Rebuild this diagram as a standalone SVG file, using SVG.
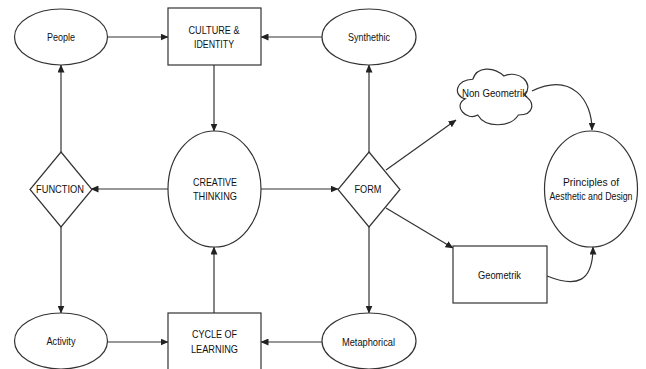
<svg xmlns="http://www.w3.org/2000/svg" width="646" height="369" viewBox="0 0 646 369">
<style>
.shape{fill:#fff;stroke:#333;stroke-width:1.2}
.edge{fill:none;stroke:#333;stroke-width:1.2;marker-end:url(#arr)}
text{font-family:"Liberation Sans",Arial,sans-serif;font-size:11px;fill:#111;text-anchor:middle}
</style>
<defs>
<marker id="arr" markerWidth="8" markerHeight="7" refX="7.5" refY="3.5" orient="auto" markerUnits="userSpaceOnUse">
<path d="M0,0 L8,3.5 L0,7 Z" fill="#222"/>
</marker>
</defs>
<rect width="646" height="369" fill="#fff"/>
<g id="connectors">
<line class="edge" x1="107" y1="37" x2="168" y2="37"/>
<line class="edge" x1="322" y1="37" x2="261" y2="37"/>
<line class="edge" x1="214" y1="65" x2="214" y2="131"/>
<line class="edge" x1="168" y1="189" x2="91" y2="189"/>
<line class="edge" x1="61" y1="152" x2="61" y2="65"/>
<line class="edge" x1="61" y1="227" x2="61" y2="313"/>
<line class="edge" x1="214" y1="313" x2="214" y2="247"/>
<line class="edge" x1="107" y1="342" x2="168" y2="342"/>
<line class="edge" x1="322" y1="342" x2="261" y2="342"/>
<line class="edge" x1="261" y1="189" x2="338" y2="189"/>
<line class="edge" x1="369" y1="152" x2="369" y2="65"/>
<line class="edge" x1="369" y1="227" x2="369" y2="313"/>
<line class="edge" x1="386" y1="170" x2="456" y2="120"/>
<line class="edge" x1="386" y1="208" x2="453" y2="248"/>
<path class="edge" d="M532,91 C572,72 592,100 592,130"/>
<path class="edge" d="M547,276 C577,288 593,282 593,247"/>
</g>
<g id="people"><ellipse class="shape" cx="61" cy="37" rx="46.5" ry="28"/><text x="61" y="41" textLength="28" lengthAdjust="spacingAndGlyphs">People</text></g>
<g id="culture"><rect class="shape" x="168" y="8" width="93" height="57"/><text x="214" y="34" textLength="51" lengthAdjust="spacingAndGlyphs">CULTURE &amp;</text><text x="214" y="48" textLength="40" lengthAdjust="spacingAndGlyphs">IDENTITY</text></g>
<g id="synthetic"><ellipse class="shape" cx="369" cy="37" rx="47" ry="28"/><text x="369" y="41" textLength="42" lengthAdjust="spacingAndGlyphs">Synthethic</text></g>
<g id="creative"><ellipse class="shape" cx="214.5" cy="189" rx="46.5" ry="58"/><text x="215" y="186" textLength="44" lengthAdjust="spacingAndGlyphs">CREATIVE</text><text x="215" y="200" textLength="44" lengthAdjust="spacingAndGlyphs">THINKING</text></g>
<g id="function"><polygon class="shape" points="61,152 92,189.5 61,227 30,189.5"/><text x="60" y="193" textLength="48" lengthAdjust="spacingAndGlyphs">FUNCTION</text></g>
<g id="form"><polygon class="shape" points="369,152 400,189.5 369,227 338,189.5"/><text x="368" y="193" textLength="27" lengthAdjust="spacingAndGlyphs">FORM</text></g>
<g id="activity"><ellipse class="shape" cx="61" cy="341" rx="46.5" ry="28"/><text x="61" y="345" textLength="29" lengthAdjust="spacingAndGlyphs">Activity</text></g>
<g id="cycle"><rect class="shape" x="168" y="313" width="93" height="57"/><text x="214.5" y="338" textLength="45" lengthAdjust="spacingAndGlyphs">CYCLE OF</text><text x="214.5" y="353" textLength="47" lengthAdjust="spacingAndGlyphs">LEARNING</text></g>
<g id="metaphorical"><ellipse class="shape" cx="369" cy="341" rx="47" ry="28"/><text x="368.5" y="346" textLength="53" lengthAdjust="spacingAndGlyphs">Metaphorical</text></g>
<g id="nongeometrik"><path class="shape" d="M472.75,79.25 C456.15,79.25 452,95.5 465.28,98.75 C452,105.9 466.94,121.5 477.73,115 C485.2,128 510.1,128 518.4,115 C535,115 535,102 524.6,95.5 C535,82.5 518.4,69.5 503.9,76 C493.5,66.25 476.9,66.25 472.75,79.25 Z"/><text x="494.5" y="97" textLength="65" lengthAdjust="spacingAndGlyphs">Non Geometrik</text></g>
<g id="geometrik"><rect class="shape" x="453" y="246" width="94" height="57"/><text x="499.5" y="279" textLength="43" lengthAdjust="spacingAndGlyphs">Geometrik</text></g>
<g id="principles"><ellipse class="shape" cx="591" cy="189" rx="46.5" ry="58"/><text x="591" y="186" textLength="56" lengthAdjust="spacingAndGlyphs">Principles of</text><text x="591" y="200" textLength="83" lengthAdjust="spacingAndGlyphs">Aesthetic and Design</text></g>
</svg>
